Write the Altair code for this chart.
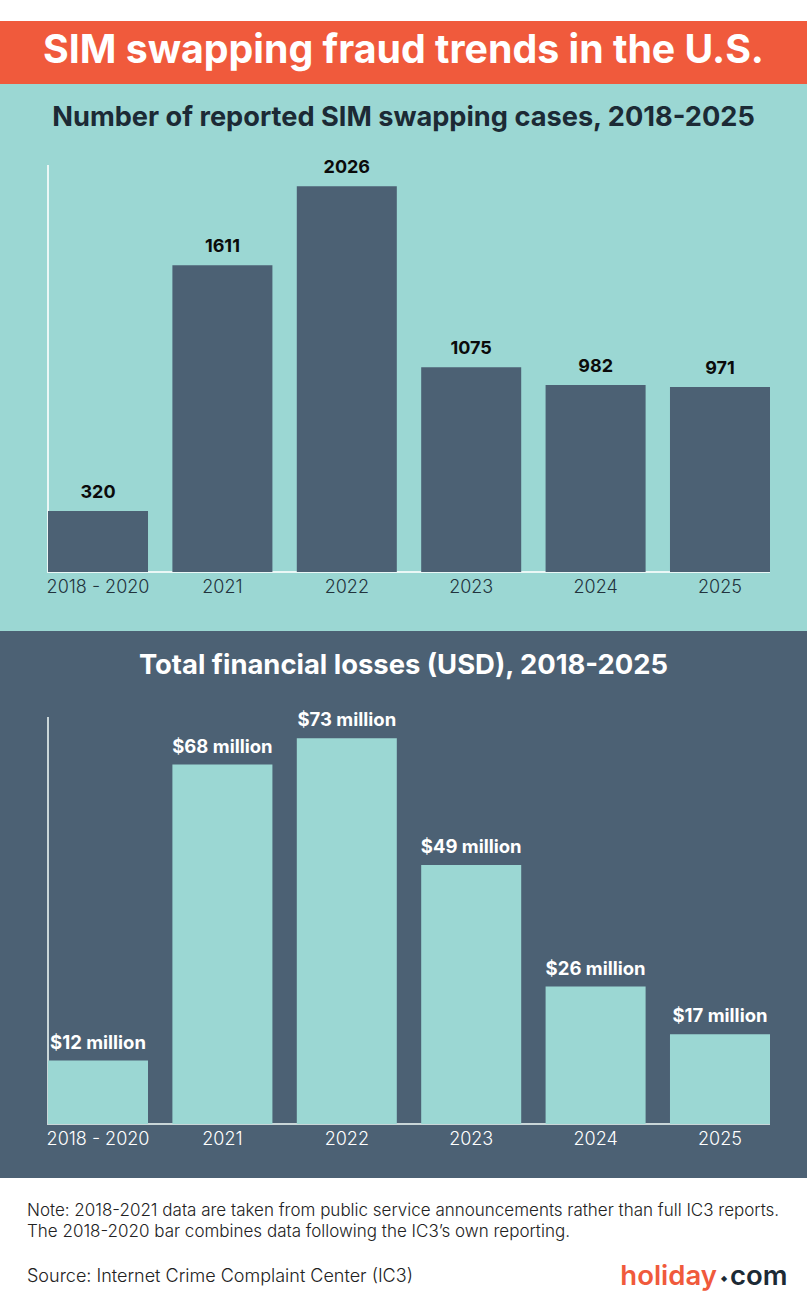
import altair as alt
import pandas as pd

# ---- data ----
categories = ["2018 - 2020", "2021", "2022", "2023", "2024", "2025"]
cases = [320, 1611, 2026, 1075, 982, 971]
losses_musd = [12, 68, 73, 49, 26, 17]
loss_labels = ["$12 million", "$68 million", "$73 million", "$49 million", "$26 million", "$17 million"]

title_main = "SIM swapping fraud trends in the U.S."
title_cases = "Number of reported SIM swapping cases, 2018-2025"
title_losses = "Total financial losses (USD), 2018-2025"
note_lines = [
    "Note: 2018-2021 data are taken from public service announcements rather than full IC3 reports.",
    "The 2018-2020 bar combines data following the IC3\u2019s own reporting.",
]
source_text = "Source: Internet Crime Complaint Center (IC3)"

df = pd.DataFrame({
    "cat": categories,
    "cases": cases,
    "loss": losses_musd,
    "loss_label": loss_labels,
})
one = pd.DataFrame({"k": [0]})

ORANGE = "#F05A3C"
TEAL = "#9BD7D3"
SLATE = "#4C6174"
DARK = "#1C2A35"
FONT = "Inter"

W, H = 807, 1311

xscale = alt.Scale(domain=categories, range=[48, 770], paddingInner=0.196, paddingOuter=0)
y_cases = alt.Scale(domain=[0, 2137], range=[572, 165])
y_loss = alt.Scale(domain=[0, 77], range=[1124, 717])


def panel(color, y0, y1):
    return alt.Chart(one).mark_rect(color=color).encode(
        x=alt.value(0), x2=alt.value(W), y=alt.value(y0), y2=alt.value(y1)
    )


def label(text, x, y, size, color, weight="normal", align="center", font=FONT):
    return alt.Chart(one).mark_text(
        text=text, fontSize=size, color=color, fontWeight=weight, align=align,
        baseline="middle", font=font
    ).encode(x=alt.value(x), y=alt.value(y))


def rule(x0, x1, y0, y1, color):
    return alt.Chart(one).mark_rule(color=color, strokeWidth=2).encode(
        x=alt.value(x0), x2=alt.value(x1), y=alt.value(y0), y2=alt.value(y1)
    )


base = alt.Chart(df)
X = alt.X("cat:N", scale=xscale, axis=None, sort=categories)

bars_cases = base.mark_bar(color=SLATE).encode(
    x=X, y=alt.Y("cases:Q", scale=y_cases, axis=None)
)
text_cases = base.mark_text(
    font=FONT, fontSize=18, fontWeight="bold", color="#0b0b0b", dy=-18, baseline="middle"
).encode(x=X, y=alt.Y("cases:Q", scale=y_cases, axis=None), text="cases:Q")
cat_cases = base.mark_text(
    font=FONT, fontSize=18, fontWeight=300, color="#22333d", baseline="middle"
).encode(x=X, y=alt.value(588), text="cat:N")

bars_loss = base.mark_bar(color=TEAL).encode(
    x=X, y=alt.Y("loss:Q", scale=y_loss, axis=None)
)
text_loss = base.mark_text(
    font=FONT, fontSize=18.5, fontWeight="bold", color="white", dy=-18, baseline="middle"
).encode(x=X, y=alt.Y("loss:Q", scale=y_loss, axis=None), text="loss_label:N")
cat_loss = base.mark_text(
    font=FONT, fontSize=18, fontWeight=300, color="white", baseline="middle"
).encode(x=X, y=alt.value(1140), text="cat:N")

layers = [
    panel(ORANGE, 21, 84),
    panel(TEAL, 84, 631),
    panel(SLATE, 631, 1178),
    label(title_main, W / 2, 51, 39.3, "white", "bold"),
    label(title_cases, W / 2, 118, 27.2, DARK, "bold"),
    label(title_losses, W / 2, 666, 27.4, "white", "bold"),
    rule(48, 48, 165, 573, "#EAF7F6"),
    rule(47, 770, 572, 572, "#EAF7F6"),
    bars_cases, text_cases, cat_cases,
    rule(48, 48, 717, 1125, "#C9D6D8"),
    rule(47, 770, 1124, 1124, "#C9D6D8"),
    bars_loss, text_loss, cat_loss,
    label(note_lines[0], 27, 1211, 17, "#222222", 300, "left"),
    label(note_lines[1], 27, 1232, 17, "#222222", 300, "left"),
    label(source_text, 27, 1277, 18, "#222222", 300, "left"),
    label("holiday", 717, 1277, 27.5, ORANGE, 600, "right"),
    label("\u25C6", 724, 1279, 8, DARK, "normal", "center", "DejaVu Sans"),
    label("com", 730, 1277, 27.5, DARK, 600, "left"),
]

chart = alt.layer(*layers).resolve_scale(y="independent").properties(
    width=W, height=H, padding=0, autosize=alt.AutoSizeParams(type="none"),
    background="white",
).configure_view(stroke=None)

chart.save("out.html", embed_options={"renderer": "svg", "actions": False})
